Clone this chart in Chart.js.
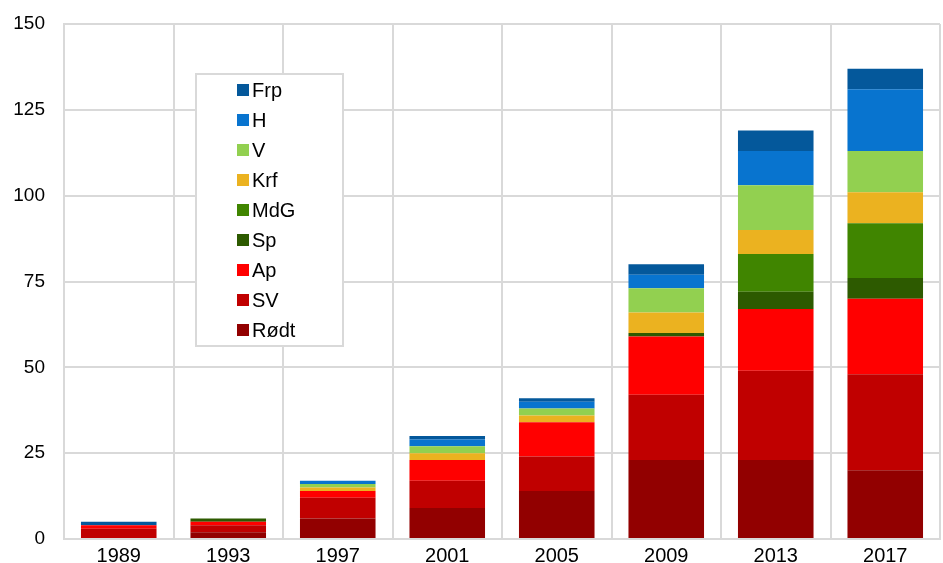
<!DOCTYPE html>
<html>
<head>
<meta charset="utf-8">
<script src="https://cdn.jsdelivr.net/npm/chart.js@4/dist/chart.umd.min.js"></script>
<style>
html,body{margin:0;padding:0;background:#fff;}
#wrap{position:relative;width:943px;height:563px;}
</style>
</head>
<body>
<div id="wrap"><canvas id="c" width="943" height="563"></canvas></div>
<script>
const years = ['1989','1993','1997','2001','2005','2009','2013','2017'];
const rodt = [0, 2, 6, 9, 14, 23, 23, 20];
const sv   = [3, 2, 6, 8, 10, 19, 26, 28];
const ap   = [1, 1, 2, 6, 10, 17, 18, 22];
const sp   = [0, 1, 0, 0, 0, 1, 5, 6];
const mdg  = [0, 0, 0, 0, 0, 0, 11, 16];
const krf  = [0, 0, 1, 2, 2, 6, 7, 9];
const v    = [0, 0, 1, 2, 2, 7, 13, 12];
const h    = [0, 0, 1, 2, 2, 4, 10, 18];
const frp  = [1, 0, 0, 1, 1, 3, 6, 6];
const yTicks = [0, 25, 50, 75, 100, 125, 150];

const series = [
  {label:'Rødt', data:rodt, color:'#920000'},
  {label:'SV',   data:sv,   color:'#c00000'},
  {label:'Ap',   data:ap,   color:'#ff0000'},
  {label:'Sp',   data:sp,   color:'#2d5a00'},
  {label:'MdG',  data:mdg,  color:'#408500'},
  {label:'Krf',  data:krf,  color:'#ebb220'},
  {label:'V',    data:v,    color:'#92d050'},
  {label:'H',    data:h,    color:'#0874cf'},
  {label:'Frp',  data:frp,  color:'#04589b'}
];

const FONT = '"Liberation Sans", Arial, sans-serif';

const legendPlugin = {
  id: 'boxLegend',
  afterDraw(chart) {
    const ctx = chart.ctx;
    const x0 = 196, y0 = 74, w = 147, hgt = 272;
    ctx.save();
    ctx.fillStyle = '#fff';
    ctx.fillRect(x0, y0, w, hgt);
    ctx.strokeStyle = '#d9d9d9';
    ctx.lineWidth = 2;
    ctx.strokeRect(x0, y0, w, hgt);
    const ds = chart.data.datasets.slice().reverse();
    ctx.font = '20px ' + FONT;
    ctx.textBaseline = 'middle';
    ctx.textAlign = 'left';
    ds.forEach((d, i) => {
      const cy = 90 + i * 30;
      ctx.fillStyle = d.backgroundColor;
      ctx.fillRect(237, cy - 6, 12, 12);
      ctx.fillStyle = '#000';
      ctx.fillText(d.label, 252, cy + 1);
    });
    ctx.restore();
  }
};

new Chart(document.getElementById('c'), {
  type: 'bar',
  data: {
    labels: years,
    datasets: series.map(s => ({
      label: s.label,
      data: s.data,
      backgroundColor: s.color,
      borderWidth: 0,
      categoryPercentage: 1,
      barPercentage: 0.69
    }))
  },
  options: {
    responsive: false,
    animation: false,
    devicePixelRatio: 1,
    layout: { padding: { top: 24, right: 3, left: 0, bottom: 0 } },
    plugins: { legend: { display: false }, tooltip: { enabled: false } },
    scales: {
      x: {
        stacked: true,
        grid: { color: '#d9d9d9', lineWidth: 2, drawTicks: false, offset: true },
        border: { color: '#d9d9d9', width: 2 },
        ticks: { color: '#000', font: { family: FONT, size: 20 }, padding: 5 },
        afterFit(s) { s.height = 24; }
      },
      y: {
        stacked: true,
        min: 0, max: 150,
        afterBuildTicks(s) { s.ticks = yTicks.map(v => ({ value: v })); },
        grid: { color: '#d9d9d9', lineWidth: 2, drawTicks: true, tickLength: 19, tickColor: 'rgba(0,0,0,0)' },
        border: { color: '#d9d9d9', width: 2 },
        ticks: { color: '#000', font: { family: FONT, size: 19 }, padding: 0 },
        afterFit(s) { s.width = 64; }
      }
    }
  },
  plugins: [legendPlugin]
});
</script>
</body>
</html>
